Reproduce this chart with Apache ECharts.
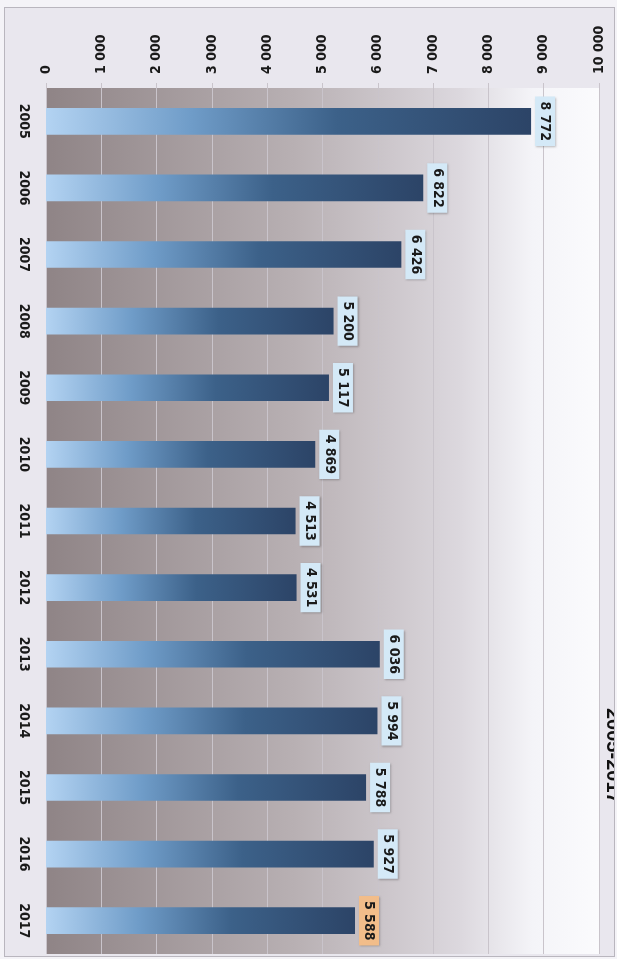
<!DOCTYPE html>
<html>
<head>
<meta charset="utf-8">
<script src="https://cdn.jsdelivr.net/npm/echarts@6/dist/echarts.min.js"></script>
<style>
html,body{margin:0;padding:0;background:#f4f3f7;}
#wrap{position:absolute;left:4px;top:7px;width:609px;height:948px;border:1px solid #b9b6be;background:#e9e7ee;}
#c{width:609px;height:948px;}
</style>
</head>
<body>
<div id="wrap"><div id="c"></div></div>
<script>
const years = ['2005','2006','2007','2008','2009','2010','2011','2012','2013','2014','2015','2016','2017'];
const values = [8772, 6822, 6426, 5200, 5117, 4869, 4513, 4531, 6036, 5994, 5788, 5927, 5588];
const valueTicks = [0, 1000, 2000, 3000, 4000, 5000, 6000, 7000, 8000, 9000, 10000];
const titleText = '2005-2017';
const highlightYear = '2017';

function fmt(v){ return String(v).replace(/\B(?=(\d{3})+(?!\d))/g, ' '); }
const FONT = '"DejaVu Sans Condensed", "Liberation Sans Narrow", sans-serif';

const chart = echarts.init(document.getElementById('c'));
chart.setOption({
  animation:false,
  grid:{left:41, right:15, top:80, bottom:2, show:true, borderWidth:0,
    backgroundColor:{type:'linear',x:0,y:0,x2:1,y2:0,colorStops:[
      {offset:0,color:'#8f8486'},{offset:0.45,color:'#b8b0b3'},{offset:0.75,color:'#dcd8de'},{offset:0.88,color:'#f4f4f8'},{offset:1,color:'#fbfbfd'}]}},
  xAxis:{type:'value', position:'top', min:valueTicks[0], max:valueTicks[valueTicks.length-1], interval:1000,
    axisLine:{show:false}, axisTick:{show:true, length:5, lineStyle:{color:'#c9c4cb'}},
    splitLine:{show:true, lineStyle:{color:'#c9c4cb', width:1}},
    axisLabel:{rotate:-90, margin:14, color:'#1a1a1a', fontWeight:'bold', fontSize:14, fontFamily:FONT, formatter:fmt}},
  yAxis:{type:'category', inverse:true, data:years,
    axisLine:{show:false}, axisTick:{show:false},
    axisLabel:{rotate:-90, margin:15, color:'#1a1a1a', fontWeight:'bold', fontSize:14, fontFamily:FONT}},
  series:[{type:'bar', barWidth:'40%',
    data: values.map((v,i)=>({value:v, label: years[i]===highlightYear ? {backgroundColor:'#f2bd8a'} : {}})),
    itemStyle:{color:{type:'linear',x:0,y:0,x2:1,y2:0,colorStops:[
      {offset:0,color:'#b3d3f2'},{offset:0.3,color:'#6f9cc8'},{offset:0.6,color:'#3c6189'},{offset:1,color:'#2c4467'}]}},
    label:{show:true, position:'right', rotate:-90, align:'center', verticalAlign:'bottom', distance:4,
      formatter:p=>fmt(p.value), color:'#1a1a1a', fontWeight:'bold', fontSize:14, fontFamily:FONT,
      backgroundColor:'#d4e9f7', padding:[3,5,3,5],
      shadowColor:'rgba(0,0,0,0.25)', shadowBlur:2, shadowOffsetX:1, shadowOffsetY:1}
  }],
  graphic:[{type:'text', right:-9, top:700, rotation:-Math.PI/2,
    style:{text:titleText, fontSize:20, fontWeight:'bold', fill:'#111', fontFamily:'"Liberation Sans", sans-serif'}}]
});
</script>
</body>
</html>
